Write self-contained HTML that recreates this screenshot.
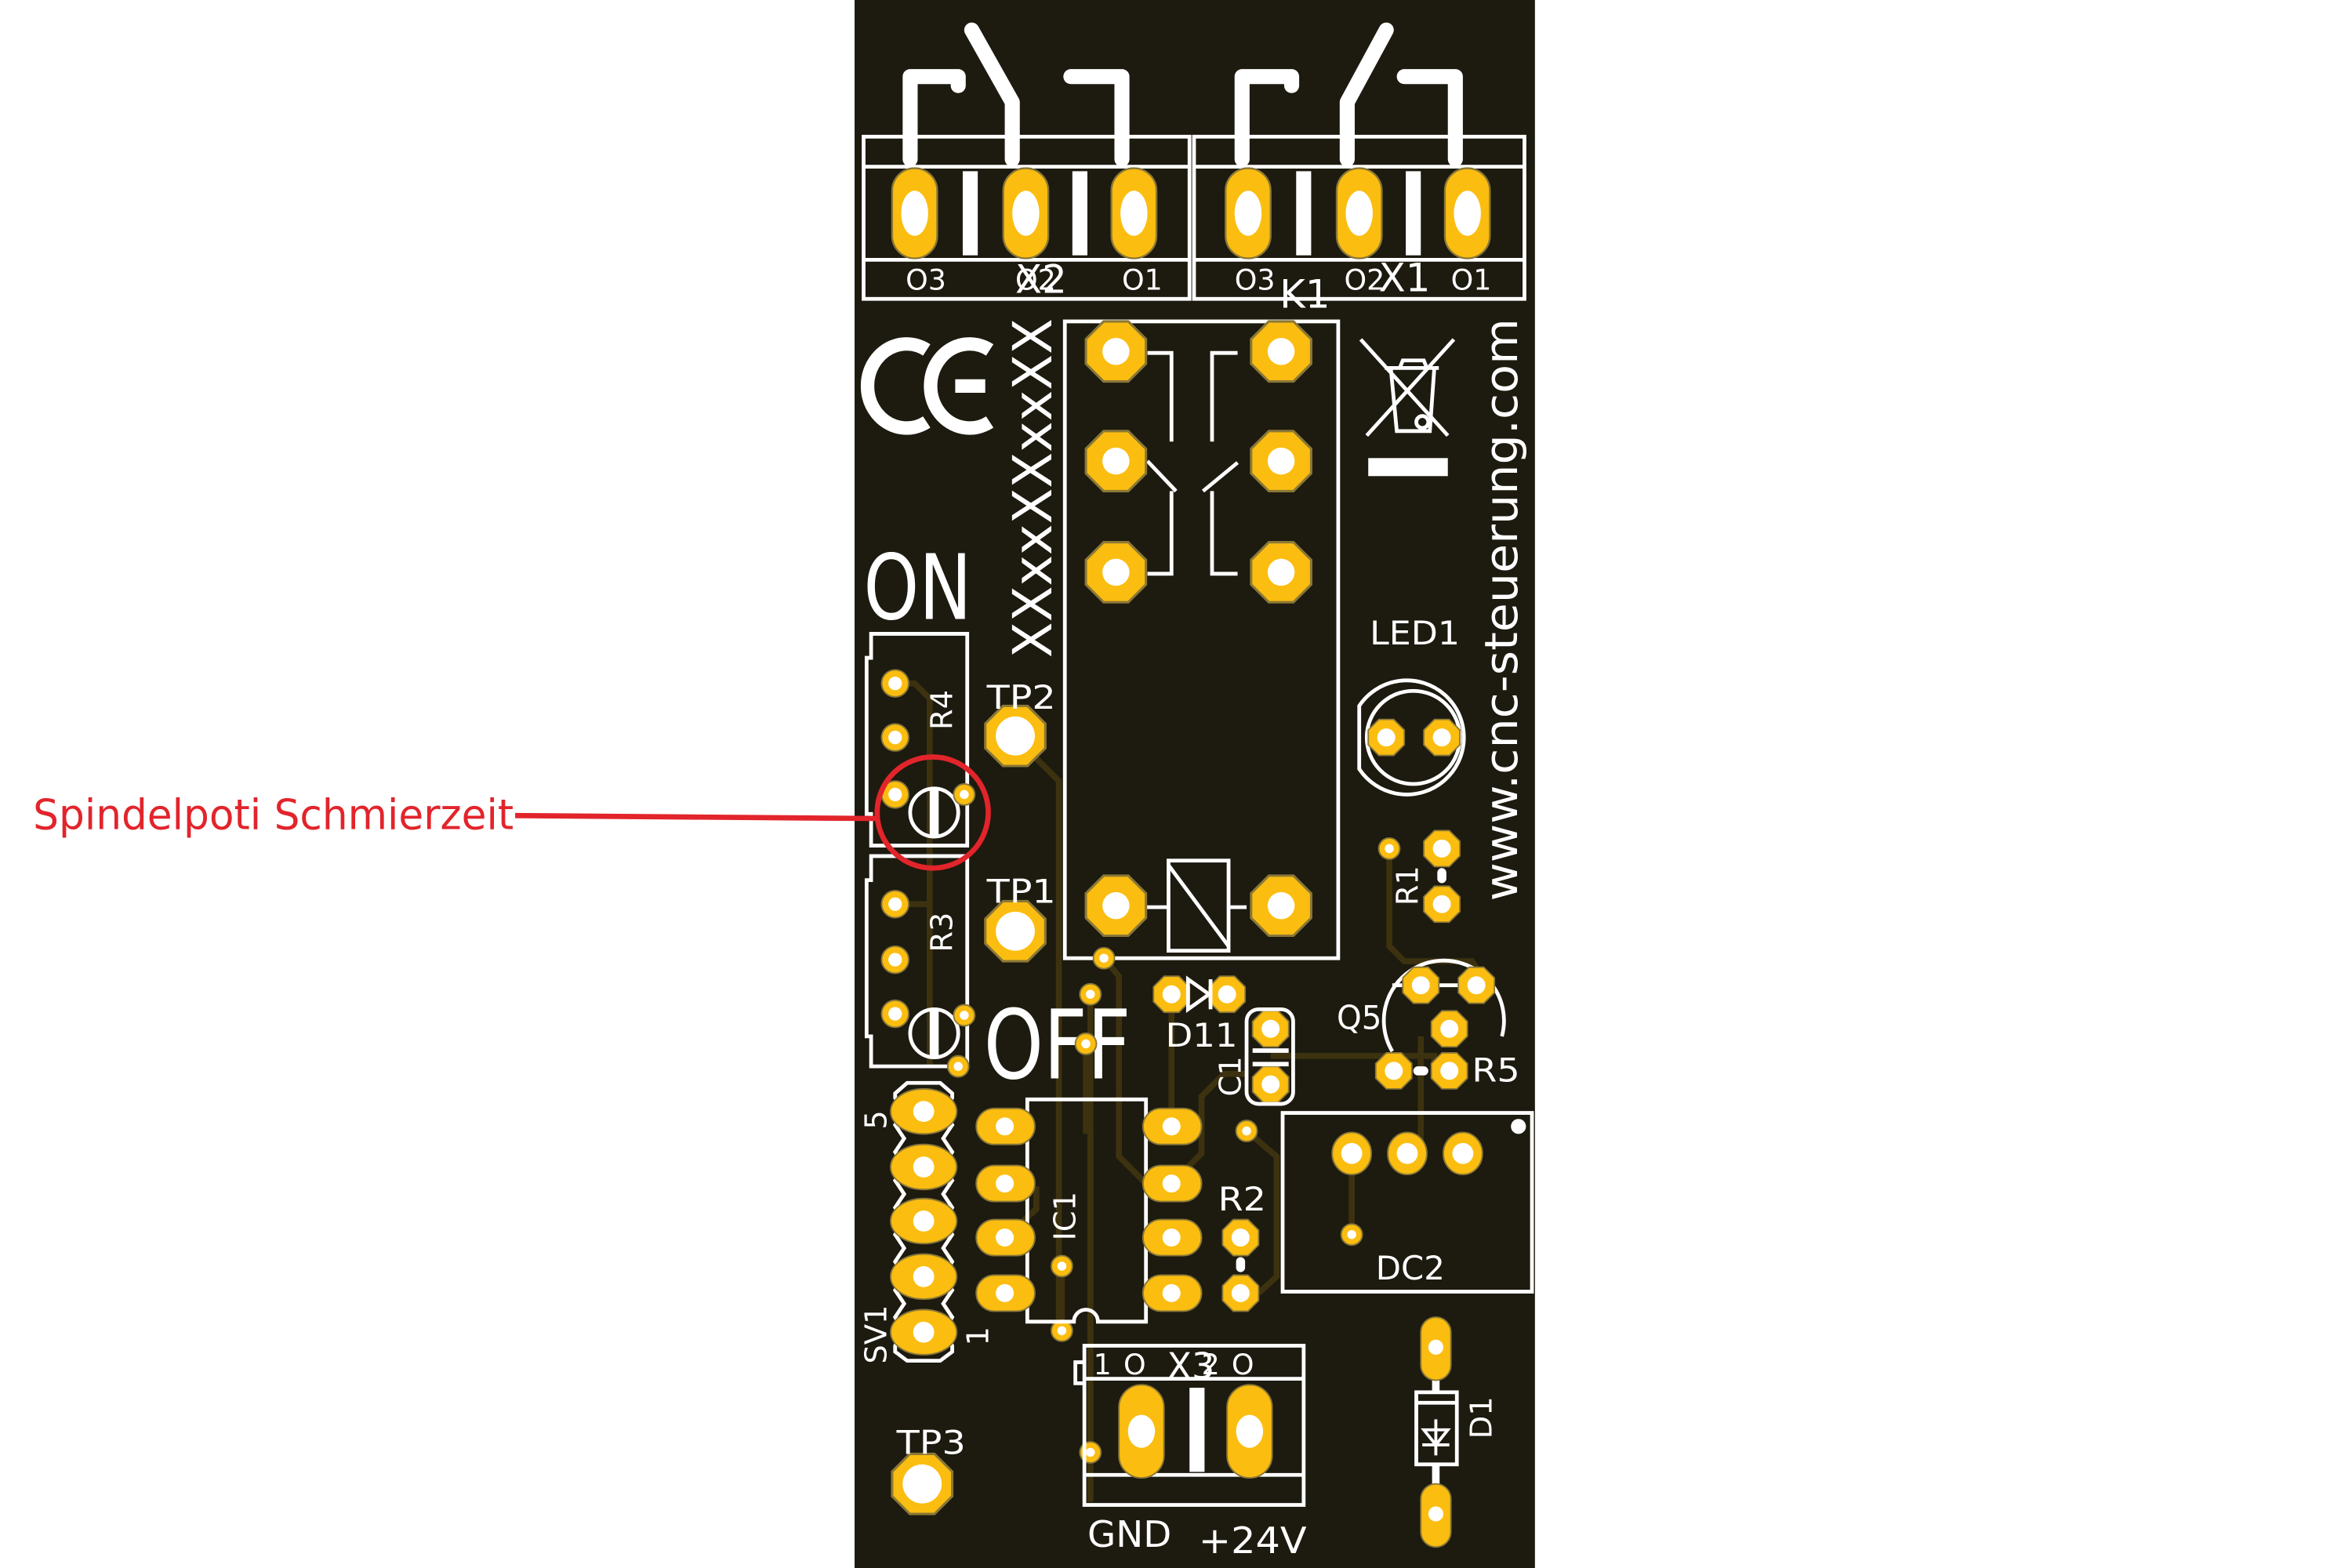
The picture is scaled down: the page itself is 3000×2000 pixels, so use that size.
<!DOCTYPE html>
<html><head><meta charset="utf-8"><style>
html,body{margin:0;padding:0;background:#fff;width:3000px;height:2000px;overflow:hidden}
svg{display:block}
text{font-family:"DejaVu Sans","Liberation Sans",sans-serif;fill:#fff}
</style></head><body>
<svg width="3000" height="2000" viewBox="0 0 1566 1044" preserveAspectRatio="none" xmlns="http://www.w3.org/2000/svg">
<defs>
<polygon id="oct" points="0.41,-1 1,-0.41 1,0.41 0.41,1 -0.41,1 -1,0.41 -1,-0.41 -0.41,-1" fill="#fbbd0f" stroke="#8a7838" stroke-width="0.08"/>
</defs>
<rect x="0" y="0" width="1566" height="1046" fill="#fff"/>
<rect x="569" y="0" width="453" height="1044" fill="#1d1a0f"/>

<g stroke="#3d3210" stroke-width="4" fill="none">
<path d="M596,455 L609,455 L619,465 L619,710"/>
<path d="M596,602 L619,602"/>
<path d="M688,503 L705,520 L705,880"/>
<path d="M735,638 L745,650 L745,770 L770,795 L780,795"/>
<path d="M726,662 L726,1000"/>
<path d="M723,695 L723,755"/>
<path d="M780,665 L780,750"/>
<path d="M707,843 L707,886"/>
<path d="M669,824 L690,805 L690,790"/>
<path d="M780,788 L800,768 L800,730 L815,715 L830,715"/>
<path d="M846,703 L955,703 L955,713"/>
<path d="M830,753 L850,770 L850,850 L838,861"/>
<path d="M900,822 L900,768"/>
<path d="M937,768 L946,758 L946,690"/>
<path d="M925,565 L925,630 L935,640 L980,640 L990,655"/>
</g>

<g stroke="#fff" stroke-width="10" fill="none" stroke-linecap="round" stroke-linejoin="round">
<path d="M606,106 L606,51 L638,51 L638,57"/>
<path d="M647,20 L674,68 L674,106"/>
<path d="M713,51 L747,51 L747,106"/>
<path d="M827,106 L827,51 L860,51 L860,57"/>
<path d="M923,20 L897,68 L897,106"/>
<path d="M935,51 L969,51 L969,106"/>
</g>
<g stroke="#fff" stroke-width="2.5" fill="none">
<rect x="575" y="91" width="217" height="108"/>
<rect x="795" y="91" width="220" height="108"/>
<line x1="575" y1="111" x2="792" y2="111"/><line x1="575" y1="173" x2="792" y2="173"/>
<line x1="795" y1="111" x2="1015" y2="111"/><line x1="795" y1="173" x2="1015" y2="173"/>
</g>
<g fill="#fff">
<rect x="641" y="114" width="10" height="56"/><rect x="714" y="114" width="10" height="56"/>
<rect x="863" y="114" width="10" height="56"/><rect x="936" y="114" width="10" height="56"/>
</g>
<g fill="#fbbd0f" stroke="#8a7838" stroke-width="1.2">
<rect x="594" y="112" width="30" height="60" rx="15"/>
<rect x="668" y="112" width="30" height="60" rx="15"/>
<rect x="740" y="112" width="30" height="60" rx="15"/>
<rect x="816" y="112" width="30" height="60" rx="15"/>
<rect x="890" y="112" width="30" height="60" rx="15"/>
<rect x="962" y="112" width="30" height="60" rx="15"/>
</g>
<g fill="#fff">
<ellipse cx="609" cy="142" rx="9" ry="15"/><ellipse cx="683" cy="142" rx="9" ry="15"/><ellipse cx="755" cy="142" rx="9" ry="15"/>
<ellipse cx="831" cy="142" rx="9" ry="15"/><ellipse cx="905" cy="142" rx="9" ry="15"/><ellipse cx="977" cy="142" rx="9" ry="15"/>
</g>
<g font-size="19">
<text x="603" y="193">O3</text><text x="676" y="193">O2</text><text x="747" y="193">O1</text>
<text x="822" y="193">O3</text><text x="895" y="193">O2</text><text x="966" y="193">O1</text>
<text x="676" y="195" font-size="26">X2</text><text x="918" y="194" font-size="26">X1</text>
<text x="852" y="205" font-size="26">K1</text>
</g>

<g stroke="#fff" stroke-width="9" fill="none">
<path d="M617,233 A26,28 0 1 0 617,281"/>
<path d="M659,233 A26,28 0 1 0 659,281"/>
<line x1="636" y1="257" x2="656" y2="257"/>
</g>
<text transform="translate(700,438) rotate(-90)" font-size="36" textLength="226" lengthAdjust="spacingAndGlyphs">XXxxXXxxXX</text>
<text transform="translate(1010,600) rotate(-90)" font-size="30" textLength="388" lengthAdjust="spacingAndGlyphs">www.cnc-steuerung.com</text>

<g stroke="#fff" stroke-width="2.5" fill="none">
<line x1="906" y1="226" x2="964" y2="290"/><line x1="968" y1="226" x2="910" y2="290"/>
<path d="M922,245 L958,245 M926,245 L930,287 L952,287 L955,245"/>
<circle cx="947" cy="281" r="4"/>
<path d="M932,245 L934,240 L948,240 L950,245"/>
</g>
<rect x="911" y="305" width="53" height="12" fill="#fff"/>

<text x="575" y="412" font-size="60" textLength="72" lengthAdjust="spacingAndGlyphs">ON</text>
<text x="655" y="718" font-size="64" textLength="98" lengthAdjust="spacingAndGlyphs">OFF</text>

<rect x="709" y="214" width="182" height="424" fill="none" stroke="#fff" stroke-width="2.5"/>
<g stroke="#fff" stroke-width="2.5" fill="none">
<path d="M764,235 L780,235 L780,294"/><path d="M764,307 L783,327"/><path d="M780,327 L780,382 L764,382"/>
<path d="M824,235 L807,235 L807,294"/><path d="M824,308 L801,327"/><path d="M807,327 L807,382 L824,382"/>
<rect x="778" y="573" width="40" height="60"/><line x1="778" y1="576" x2="818" y2="630"/>
<line x1="763" y1="604" x2="778" y2="604"/><line x1="818" y1="604" x2="830" y2="604"/>
</g>
<use href="#oct" transform="translate(743,234) scale(20)"/><use href="#oct" transform="translate(853,234) scale(20)"/>
<use href="#oct" transform="translate(743,307) scale(20)"/><use href="#oct" transform="translate(853,307) scale(20)"/>
<use href="#oct" transform="translate(743,381) scale(20)"/><use href="#oct" transform="translate(853,381) scale(20)"/>
<use href="#oct" transform="translate(743,603) scale(20)"/><use href="#oct" transform="translate(853,603) scale(20)"/>
<use href="#oct" transform="translate(676,490) scale(20)"/><use href="#oct" transform="translate(676,620) scale(20)"/>
<use href="#oct" transform="translate(614,988) scale(20)"/>
<g fill="#fff">
<circle cx="743" cy="234" r="9"/><circle cx="853" cy="234" r="9"/><circle cx="743" cy="307" r="9"/><circle cx="853" cy="307" r="9"/>
<circle cx="743" cy="381" r="9"/><circle cx="853" cy="381" r="9"/><circle cx="743" cy="603" r="9"/><circle cx="853" cy="603" r="9"/>
<circle cx="676" cy="490" r="13"/><circle cx="676" cy="620" r="13"/><circle cx="614" cy="988" r="13"/>
</g>
<g font-size="22">
<text x="657" y="472" textLength="46" lengthAdjust="spacingAndGlyphs">TP2</text><text x="657" y="601" textLength="46" lengthAdjust="spacingAndGlyphs">TP1</text><text x="597" y="968" textLength="46" lengthAdjust="spacingAndGlyphs">TP3</text>
<text x="912" y="429" textLength="60" lengthAdjust="spacingAndGlyphs">LED1</text><text x="890" y="685" textLength="30" lengthAdjust="spacingAndGlyphs">Q5</text><text x="980" y="720" textLength="32" lengthAdjust="spacingAndGlyphs">R5</text>
<text x="811" y="806" textLength="32" lengthAdjust="spacingAndGlyphs">R2</text><text x="916" y="852" textLength="46" lengthAdjust="spacingAndGlyphs">DC2</text><text x="776" y="697" textLength="48" lengthAdjust="spacingAndGlyphs">D11</text>
<text x="724" y="1030" font-size="24" textLength="56" lengthAdjust="spacingAndGlyphs">GND</text><text x="798" y="1034" font-size="24" textLength="72" lengthAdjust="spacingAndGlyphs">+24V</text>
</g>
<g font-size="20">
<text transform="translate(634,486) rotate(-90)">R4</text>
<text transform="translate(634,634) rotate(-90)">R3</text>
<text transform="translate(944,603) rotate(-90)">R1</text>
<text transform="translate(826,730) rotate(-90)">C1</text>
<text transform="translate(716,826) rotate(-90)">IC1</text>
<text transform="translate(590,908) rotate(-90)">SV1</text>
<text transform="translate(590,752) rotate(-90)">5</text>
<text transform="translate(658,896) rotate(-90)">1</text>
<text transform="translate(993,958) rotate(-90)">D1</text>
</g>

<g stroke="#fff" stroke-width="2.5" fill="none">
<path d="M580,422 L644,422 L644,563 L580,563 L580,542 L577,542 L577,438 L580,438 Z"/>
<path d="M580,570 L644,570 L644,710 L580,710 L580,690 L577,690 L577,586 L580,586 Z"/>
<circle cx="622" cy="541" r="16"/><circle cx="622" cy="688" r="16"/>
</g>
<rect x="619" y="525" width="6" height="32" fill="#fff"/><rect x="619" y="672" width="6" height="32" fill="#fff"/>
<g fill="#fbbd0f" stroke="#8a7838" stroke-width="1">
<circle cx="596" cy="455" r="9"/><circle cx="596" cy="491" r="9"/><circle cx="596" cy="529" r="9"/>
<circle cx="596" cy="602" r="9"/><circle cx="596" cy="639" r="9"/><circle cx="596" cy="675" r="9"/>
<circle cx="642" cy="529" r="7"/><circle cx="642" cy="676" r="7"/><circle cx="638" cy="710" r="7"/>
<circle cx="735" cy="638" r="7"/><circle cx="726" cy="662" r="7"/><circle cx="723" cy="695" r="7"/>
<circle cx="707" cy="843" r="7"/><circle cx="707" cy="886" r="7"/><circle cx="726" cy="967" r="7"/>
<circle cx="830" cy="753" r="7"/><circle cx="900" cy="822" r="7"/><circle cx="925" cy="565" r="7"/>
</g>
<g fill="#fff">
<circle cx="596" cy="455" r="4.5"/><circle cx="596" cy="491" r="4.5"/><circle cx="596" cy="529" r="4.5"/>
<circle cx="596" cy="602" r="4.5"/><circle cx="596" cy="639" r="4.5"/><circle cx="596" cy="675" r="4.5"/>
<circle cx="642" cy="529" r="3"/><circle cx="642" cy="676" r="3"/><circle cx="638" cy="710" r="3"/>
<circle cx="735" cy="638" r="3"/><circle cx="726" cy="662" r="3"/><circle cx="723" cy="695" r="3"/>
<circle cx="707" cy="843" r="3"/><circle cx="707" cy="886" r="3"/><circle cx="726" cy="967" r="3"/>
<circle cx="830" cy="753" r="3"/><circle cx="900" cy="822" r="3"/><circle cx="925" cy="565" r="3"/>
</g>

<g stroke="#fff" stroke-width="2.5" fill="none">
<path d="M905,470 A38,38 0 1 1 905,512 Z"/>
<circle cx="941" cy="491" r="31"/>
<path d="M927,700 A40,40 0 1 1 1000,690"/>
<line x1="927" y1="656" x2="936" y2="656"/><line x1="956" y1="656" x2="973" y2="656"/>
</g>
<g>
<use href="#oct" transform="translate(923,491) scale(12)"/><use href="#oct" transform="translate(960,491) scale(12)"/>
<use href="#oct" transform="translate(960,565) scale(12)"/><use href="#oct" transform="translate(960,602) scale(12)"/>
<use href="#oct" transform="translate(946,656) scale(12)"/><use href="#oct" transform="translate(983,656) scale(12)"/>
<use href="#oct" transform="translate(965,685) scale(12)"/>
<use href="#oct" transform="translate(928,713) scale(12)"/><use href="#oct" transform="translate(965,713) scale(12)"/>
<use href="#oct" transform="translate(780,662) scale(12)"/><use href="#oct" transform="translate(817,662) scale(12)"/>
<use href="#oct" transform="translate(846,685) scale(12)"/><use href="#oct" transform="translate(846,722) scale(12)"/>
<use href="#oct" transform="translate(826,824) scale(12)"/><use href="#oct" transform="translate(826,861) scale(12)"/>
</g>
<g fill="#fff">
<circle cx="923" cy="491" r="6"/><circle cx="960" cy="491" r="6"/><circle cx="960" cy="565" r="6"/><circle cx="960" cy="602" r="6"/>
<circle cx="946" cy="656" r="6"/><circle cx="983" cy="656" r="6"/><circle cx="965" cy="685" r="6"/>
<circle cx="928" cy="713" r="6"/><circle cx="965" cy="713" r="6"/><circle cx="780" cy="662" r="6"/><circle cx="817" cy="662" r="6"/>
<circle cx="846" cy="685" r="6"/><circle cx="846" cy="722" r="6"/><circle cx="826" cy="824" r="6"/><circle cx="826" cy="861" r="6"/>
<rect x="957" y="578" width="6" height="10" rx="3"/><rect x="941" y="710" width="10" height="6" rx="3"/><rect x="823" y="837" width="6" height="10" rx="3"/>
</g>
<g stroke="#fff" stroke-width="2.5" fill="none">
<path d="M791,652 L805,662 L791,672 Z"/><line x1="806" y1="652" x2="806" y2="672"/>
<rect x="830" y="672" width="31" height="63" rx="8"/>
</g>
<rect x="834" y="698" width="24" height="3" fill="#fff"/><rect x="834" y="707" width="24" height="3" fill="#fff"/>

<rect x="854" y="741" width="166" height="119" fill="none" stroke="#fff" stroke-width="2.5"/>
<circle cx="1011" cy="750" r="5" fill="#fff"/>
<g fill="#fbbd0f" stroke="#8a7838" stroke-width="1">
<ellipse cx="900" cy="768" rx="13" ry="14"/><ellipse cx="937" cy="768" rx="13" ry="14"/><ellipse cx="974" cy="768" rx="13" ry="14"/>
</g>
<g fill="#fff"><circle cx="900" cy="768" r="7"/><circle cx="937" cy="768" r="7"/><circle cx="974" cy="768" r="7"/></g>

<path d="M684,732 L763,732 L763,880 L731,880 A8,8 0 0 0 715,880 L684,880 Z" fill="none" stroke="#fff" stroke-width="2.5"/>
<g fill="#fbbd0f" stroke="#8a7838" stroke-width="1">
<rect x="650" y="738" width="39" height="24" rx="12"/><rect x="650" y="776" width="39" height="24" rx="12"/>
<rect x="650" y="812" width="39" height="24" rx="12"/><rect x="650" y="849" width="39" height="24" rx="12"/>
<rect x="761" y="738" width="39" height="24" rx="12"/><rect x="761" y="776" width="39" height="24" rx="12"/>
<rect x="761" y="812" width="39" height="24" rx="12"/><rect x="761" y="849" width="39" height="24" rx="12"/>
</g>
<g fill="#fff">
<circle cx="669" cy="750" r="6"/><circle cx="669" cy="788" r="6"/><circle cx="669" cy="824" r="6"/><circle cx="669" cy="861" r="6"/>
<circle cx="780" cy="750" r="6"/><circle cx="780" cy="788" r="6"/><circle cx="780" cy="824" r="6"/><circle cx="780" cy="861" r="6"/>
</g>

<path d="M604,721 L626,721 L634,728 L634,731 L628,740 L634,749 L628,758 L634,767 L628,777 L634,786 L628,795 L634,804 L628,813 L634,822 L628,831 L634,840 L628,850 L634,859 L628,868 L634,877 L628,887 L634,896 L634,900 L626,906 L604,906 L596,900 L596,896 L602,887 L596,877 L602,868 L596,859 L602,850 L596,840 L602,831 L596,822 L602,813 L596,804 L602,795 L596,786 L602,777 L596,767 L602,758 L596,749 L602,740 L596,731 L596,728 Z" fill="none" stroke="#fff" stroke-width="2.5"/>
<g fill="#fbbd0f" stroke="#8a7838" stroke-width="1">
<ellipse cx="615" cy="740" rx="22" ry="15"/><ellipse cx="615" cy="777" rx="22" ry="15"/><ellipse cx="615" cy="813" rx="22" ry="15"/>
<ellipse cx="615" cy="850" rx="22" ry="15"/><ellipse cx="615" cy="887" rx="22" ry="15"/>
</g>
<g fill="#fff"><circle cx="615" cy="740" r="7"/><circle cx="615" cy="777" r="7"/><circle cx="615" cy="813" r="7"/><circle cx="615" cy="850" r="7"/><circle cx="615" cy="887" r="7"/></g>

<g stroke="#fff" stroke-width="2.5" fill="none">
<rect x="722" y="896" width="146" height="106"/>
<line x1="722" y1="918" x2="868" y2="918"/><line x1="722" y1="982" x2="868" y2="982"/>
<path d="M722,907 L716,907 L716,921 L722,921"/>
</g>
<rect x="792" y="924" width="10" height="56" fill="#fff"/>
<g fill="#fbbd0f" stroke="#8a7838" stroke-width="1">
<rect x="745" y="922" width="30" height="62" rx="15"/><rect x="817" y="922" width="30" height="62" rx="15"/>
</g>
<g fill="#fff"><ellipse cx="760" cy="953" rx="9" ry="11"/><ellipse cx="832" cy="953" rx="9" ry="11"/></g>
<g font-size="19"><text x="728" y="915">1</text><text x="748" y="915">O</text><text x="777" y="918" font-size="24">X3</text><text x="800" y="915">2</text><text x="820" y="915">O</text></g>

<line x1="956" y1="905" x2="956" y2="1000" stroke="#fff" stroke-width="5"/>
<rect x="943" y="927" width="27" height="48" fill="#1d1a0f" stroke="#fff" stroke-width="2.5"/>
<line x1="943" y1="934" x2="970" y2="934" stroke="#fff" stroke-width="2.5"/>
<path d="M948,952 L964,952 L956,962 Z M947,962 L965,962 M956,945 L956,969" fill="none" stroke="#fff" stroke-width="2"/>
<g fill="#fbbd0f" stroke="#8a7838" stroke-width="1">
<rect x="946" y="877" width="20" height="42" rx="10"/><rect x="946" y="988" width="20" height="42" rx="10"/>
</g>
<g fill="#fff"><circle cx="956" cy="897" r="5"/><circle cx="956" cy="1008" r="5"/></g>

<text x="22" y="552" font-family="Liberation Sans,sans-serif" font-size="28" style="fill:#e2242b" textLength="320" lengthAdjust="spacingAndGlyphs">Spindelpoti Schmierzeit</text>
<path d="M343,543 L460,544 L585,545" stroke="#e2242b" stroke-width="3.5" fill="none"/>
<circle cx="621" cy="541" r="37" fill="none" stroke="#e2242b" stroke-width="3.5"/>
</svg>
</body></html>
